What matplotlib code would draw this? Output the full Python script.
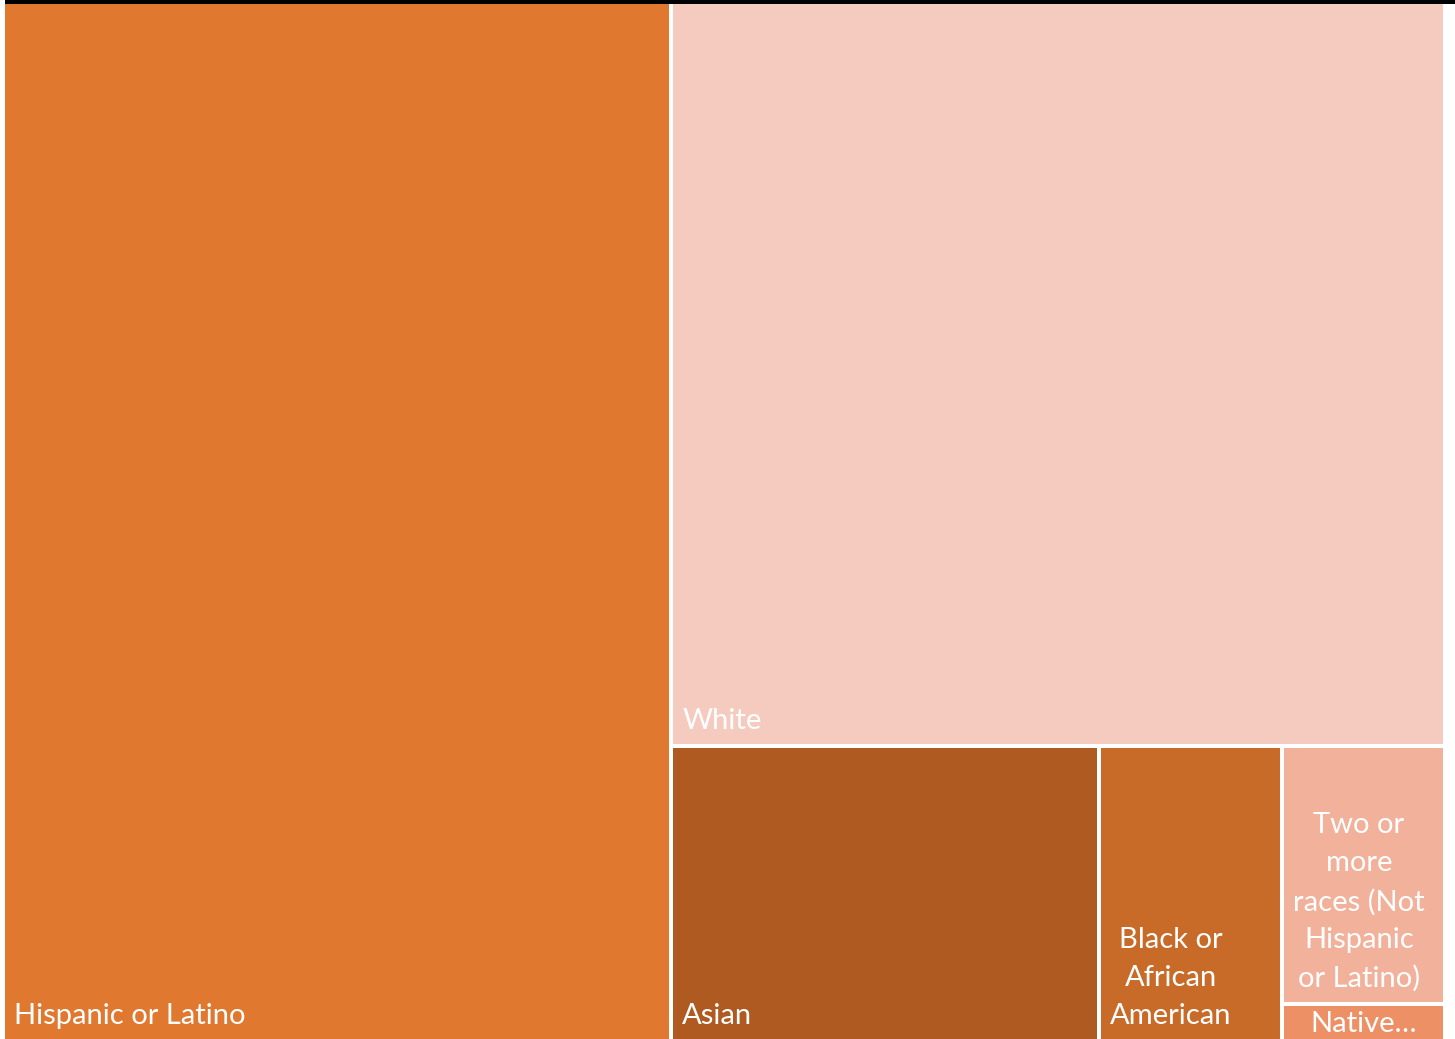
import matplotlib
matplotlib.use("Agg")
import matplotlib.pyplot as plt
from matplotlib.patches import Rectangle

# ---- data ----
categories = ["Hispanic or Latino", "White", "Asian", "Black or African American",
              "Two or more races (Not Hispanic or Latino)", "Native Hawaiian or Other Pacific Islander"]
labels = ["Hispanic or Latino", "White", "Asian", "Black or\nAfrican\nAmerican",
          "Two or\nmore\nraces (Not\nHispanic\nor Latino)", "Native\u2026"]
values = [46.3, 38.4, 8.4, 3.6, 2.8, 0.4]
colors = ["#E07830", "#F6CBBF", "#AE5A21", "#C86A28", "#F1B19A", "#EE9065"]


def squarify(sizes, x, y, w, h):
    total = sum(sizes)
    sizes = [s * w * h / total for s in sizes]
    rects = []
    while sizes:
        short = min(w, h)

        def worst(row):
            s = sum(row)
            side = s / short
            return max(max(side / (r / side), (r / side) / side) for r in row)

        row = [sizes[0]]
        i = 1
        while i < len(sizes) and worst(row + [sizes[i]]) <= worst(row):
            row.append(sizes[i])
            i += 1
        sizes = sizes[i:]
        s = sum(row)
        if w >= h:
            cw = s / h
            yy = y
            for r in row:
                rh = r / cw
                rects.append((x, yy, cw, rh))
                yy += rh
            x += cw
            w -= cw
        else:
            rh = s / w
            xx = x
            for r in row:
                rw = r / rh
                rects.append((xx, y, rw, rh))
                xx += rw
            y += rh
            h -= rh
    return rects


W, H = 1455, 1039
fig = plt.figure(figsize=(W / 100, H / 100), dpi=100)
ax = fig.add_axes([0, 0, 1, 1])
ax.set_xlim(0, W)
ax.set_ylim(H, 0)
ax.axis("off")

# top border line
ax.add_patch(Rectangle((5, 0), W - 5, 3.5, facecolor="black", edgecolor="none"))

gap = 2
fs = 21
rects = squarify(values, 3, 2, 1442, 1039)
for (x, y, w, h), lab, col, name in zip(rects, labels, colors, categories):
    r = Rectangle((x + gap, y + gap), w - 2 * gap, h - 2 * gap, facecolor=col, edgecolor="none")
    ax.add_patch(r)
    if name.startswith("Native"):
        t = ax.text(x + w / 2, y + gap + 5, lab, ha="center", va="top", color="white",
                    fontsize=fs, family="Lato")
    else:
        t = ax.text(x + gap + 9, y + h - gap - 15, lab, ha="left", va="baseline",
                    multialignment="center", color="white", fontsize=fs, family="Lato",
                    linespacing=1.56)
    t.set_clip_path(r)

fig.savefig("out.png", dpi=100)
